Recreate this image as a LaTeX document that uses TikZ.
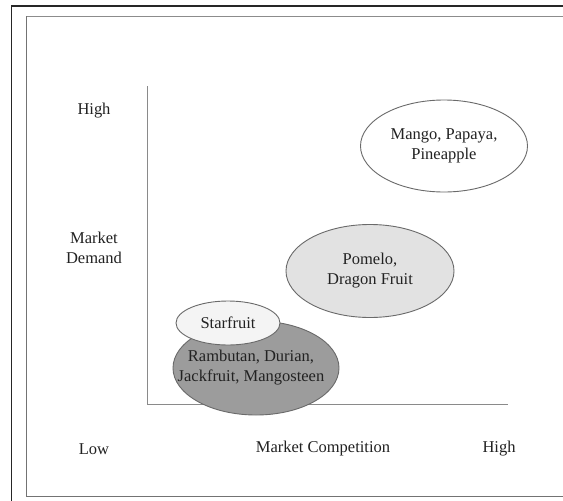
\documentclass[tikz,border=0pt]{standalone}
\usepackage{fontspec}
\setmainfont{Liberation Serif}
\usetikzlibrary{shapes.geometric}
\definecolor{txt}{HTML}{222222}
\definecolor{axisc}{HTML}{8A8A8A}
\definecolor{edgec}{HTML}{6A6A6A}
\definecolor{pomfill}{HTML}{E2E2E2}
\definecolor{starfill}{HTML}{F4F4F4}
\definecolor{ramfill}{HTML}{9C9C9C}
\tikzset{
  lbl/.style={text=txt, font=\fontsize{16.5}{20}\selectfont, align=center, inner sep=0pt},
  blob/.style={ellipse, draw=edgec, line width=0.9pt, inner sep=0pt},
}
\begin{document}
\begin{tikzpicture}[x=1pt,y=-1pt]
\useasboundingbox (0,0) rectangle (563,501);
\fill[white] (0,0) rectangle (563,501);
% frames
\draw[line width=1.4pt, black!85] (11.5,501) -- (11.5,6) -- (563,6);
\draw[line width=0.8pt, black!45] (26,16) -- (563,16);
\draw[line width=0.8pt, black!55] (26,16) -- (26,496) -- (563,496);
% axes
\coordinate (ytop) at (147,86);
\coordinate (orig) at (147,404);
\coordinate (xend) at (508,404);
\draw[axisc, line width=0.9pt] (ytop) -- (orig) -- (xend);
% axis labels
\node[lbl] (yhigh) at (94,111) {High};
\node[lbl] (ylab) at (94,248) {Market\\Demand};
\node[lbl] (low) at (94,449) {Low};
\node[lbl] (xlab) at (323,449) {Market Competition};
\node[lbl] (xhigh) at (499,449) {High};
% ellipses
\node[blob, fill=white, minimum width=167pt, minimum height=92pt] (mango) at (444,146) {};
\node[lbl] at (mango.center) {Mango, Papaya,\\Pineapple};
\node[blob, fill=pomfill, minimum width=168pt, minimum height=93pt] (pomelo) at (370,271) {};
\node[lbl] at (pomelo.center) {Pomelo,\\Dragon Fruit};
\node[blob, fill=ramfill, minimum width=166pt, minimum height=94pt] (ram) at (256,368) {};
\node[lbl] at ([xshift=-5pt]ram.center) {Rambutan, Durian,\\Jackfruit, Mangosteen};
\node[blob, fill=starfill, minimum width=104pt, minimum height=44pt] (star) at (228,323) {};
\node[lbl] at (star.center) {Starfruit};
\end{tikzpicture}
\end{document}
